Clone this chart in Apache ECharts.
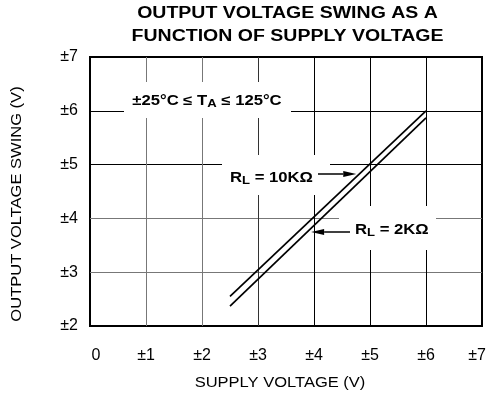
<!DOCTYPE html>
<html>
<head>
<meta charset="utf-8">
<script src="https://cdn.jsdelivr.net/npm/echarts@6/dist/echarts.min.js"></script>
<style>
  html, body { margin: 0; padding: 0; background: #fff; }
  #chart { width: 489px; height: 402px; }
</style>
</head>
<body>
<div id="chart"></div>
<script>
// data
var supplyV = [2.5, 6];
var swing10k = [2.55, 6.0];
var swing2k = [2.37, 5.87];

var xTickLabels = ['0', '\u00b11', '\u00b12', '\u00b13', '\u00b14', '\u00b15', '\u00b16', '\u00b17'];
var yTickLabels = {2: '\u00b12', 3: '\u00b13', 4: '\u00b14', 5: '\u00b15', 6: '\u00b16', 7: '\u00b17'};

var FONT = '"Liberation Sans", Arial, sans-serif';

function pairs(xs, ys) {
    return xs.map(function (x, i) { return [x, ys[i]]; });
}

var chart = echarts.init(document.getElementById('chart'));

var option = {
    animation: false,
    grid: {
        left: 90, right: 7, top: 57, bottom: 76,
        show: true,
        borderColor: '#000',
        borderWidth: 2
    },
    xAxis: {
        type: 'value',
        min: 0, max: 7, interval: 1,
        axisLine: { show: false },
        axisTick: { show: false },
        axisLabel: {
            margin: 22,
            fontSize: 16,
            fontFamily: FONT,
            color: '#000',
            showMinLabel: true,
            showMaxLabel: true,
            formatter: function (v) {
                if (v === 0) return '{l|0}';
                if (v === 7) return '{r|' + xTickLabels[v] + '}';
                return xTickLabels[v];
            },
            rich: {
                l: { fontSize: 16, fontFamily: FONT, color: '#000', padding: [0, 0, 0, 12] },
                r: { fontSize: 16, fontFamily: FONT, color: '#000', padding: [0, 10, 0, 0] }
            }
        },
        splitLine: {
            show: true,
            showMinLine: false,
            showMaxLine: false,
            lineStyle: { color: ['#777', '#777', '#333', '#000', '#000', '#000'], width: 1 }
        }
    },
    yAxis: {
        type: 'value',
        min: 2, max: 7, interval: 1,
        axisLine: { show: false },
        axisTick: { show: false },
        axisLabel: {
            margin: 12,
            fontSize: 16,
            fontFamily: FONT,
            color: '#000',
            formatter: function (v) { return yTickLabels[v]; }
        },
        splitLine: {
            show: true,
            showMinLine: false,
            showMaxLine: false,
            lineStyle: { color: ['#777', '#777', '#000', '#000'], width: 1 }
        }
    },
    series: [
        {
            name: 'RL = 10K',
            type: 'line',
            data: pairs(supplyV, swing10k),
            showSymbol: false,
            lineStyle: { color: '#000', width: 1.7 }
        },
        {
            name: 'RL = 2K',
            type: 'line',
            data: pairs(supplyV, swing2k),
            showSymbol: false,
            lineStyle: { color: '#000', width: 1.7 }
        }
    ]
};

chart.setOption(option);

// x pixel where a series segment crosses a given pixel row
function xOnLine(ys, py) {
    var p1 = chart.convertToPixel({ gridIndex: 0 }, [supplyV[0], ys[0]]);
    var p2 = chart.convertToPixel({ gridIndex: 0 }, [supplyV[1], ys[1]]);
    var t = (py - p1[1]) / (p2[1] - p1[1]);
    return p1[0] + t * (p2[0] - p1[0]);
}

function arrow(x1, x2, y) {
    // tail at x1, tip at x2
    var dir = x2 > x1 ? 1 : -1;
    var headLen = 13;
    return [
        { type: 'line', z: 3, shape: { x1: x1, y1: y, x2: x2 - dir * headLen, y2: y },
          style: { stroke: '#000', lineWidth: 1.5 } },
        { type: 'polygon', z: 3, shape: { points: [[x2, y], [x2 - dir * headLen, y - 3], [x2 - dir * headLen, y + 3]] },
          style: { fill: '#000' } }
    ];
}

var tip10 = xOnLine(swing10k, 174) - 3;
var tip2 = xOnLine(swing2k, 232) + 4;

var boldStyle = function (text) {
    return {
        text: text,
        fontFamily: FONT,
        fontWeight: 'bold',
        fontSize: 14,
        fill: '#000',
        rich: {
            b: { fontFamily: FONT, fontWeight: 'bold', fontSize: 14, fill: '#000' },
            sub: { fontFamily: FONT, fontWeight: 'bold', fontSize: 11, fill: '#000', padding: [6, 0, 0, 0] }
        }
    };
};

var elements = [
    // white boxes behind annotations
    { type: 'rect', z: 1, shape: { x: 124, y: 82, width: 167, height: 36 }, style: { fill: '#fff' } },
    { type: 'rect', z: 1, shape: { x: 222, y: 155, width: 108, height: 40 }, style: { fill: '#fff' } },
    { type: 'rect', z: 1, shape: { x: 339, y: 206, width: 97, height: 44 }, style: { fill: '#fff' } },

    // title
    { type: 'text', z: 3, x: 287.5, y: 14, scaleX: 1.22,
      style: { text: 'OUTPUT VOLTAGE SWING AS A', fontFamily: FONT, fontWeight: 'bold', fontSize: 16,
               fill: '#000', align: 'center', verticalAlign: 'middle' } },
    { type: 'text', z: 3, x: 287.5, y: 37, scaleX: 1.22,
      style: { text: 'FUNCTION OF SUPPLY VOLTAGE', fontFamily: FONT, fontWeight: 'bold', fontSize: 16,
               fill: '#000', align: 'center', verticalAlign: 'middle' } },

    // axis names
    { type: 'text', z: 3, x: 280, y: 383, scaleX: 1.18,
      style: { text: 'SUPPLY VOLTAGE (V)', fontFamily: FONT, fontSize: 14,
               fill: '#000', align: 'center', verticalAlign: 'middle' } },
    { type: 'text', z: 3, x: 17, y: 204, rotation: Math.PI / 2, scaleX: 1.18,
      style: { text: 'OUTPUT VOLTAGE SWING (V)', fontFamily: FONT, fontSize: 14,
               fill: '#000', align: 'center', verticalAlign: 'middle' } },

    // annotations
    { type: 'text', z: 3, x: 207, y: 101, scaleX: 1.19,
      style: Object.assign(boldStyle('{b|\u00b125\u00b0C \u2264 T}{sub|A}{b| \u2264 125\u00b0C}'),
                           { align: 'center', verticalAlign: 'middle' }) },
    { type: 'text', z: 3, x: 230, y: 178, scaleX: 1.19,
      style: Object.assign(boldStyle('{b|R}{sub|L}{b| = 10K\u03a9}'),
                           { align: 'left', verticalAlign: 'middle' }) },
    { type: 'text', z: 3, x: 355, y: 230, scaleX: 1.19,
      style: Object.assign(boldStyle('{b|R}{sub|L}{b| = 2K\u03a9}'),
                           { align: 'left', verticalAlign: 'middle' }) }
].concat(arrow(318, tip10, 174)).concat(arrow(350, tip2, 232));

chart.setOption({ graphic: { elements: elements } });
</script>
</body>
</html>
